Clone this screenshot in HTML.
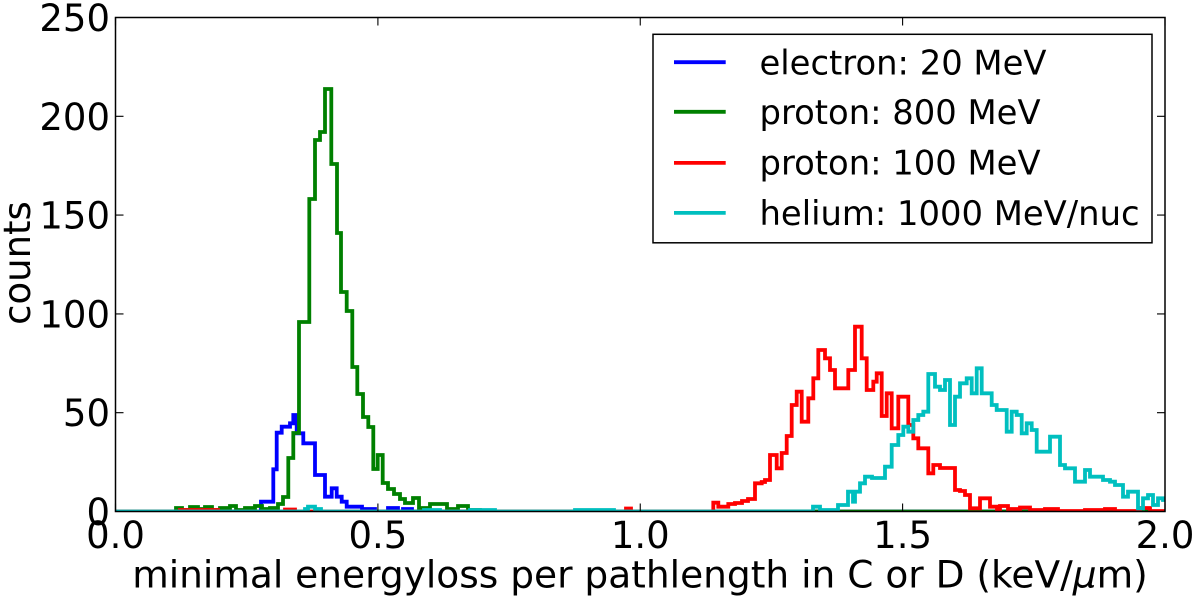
<!DOCTYPE html>
<html><head><meta charset="utf-8"><style>
html,body{margin:0;padding:0;background:#fff;}
svg{display:block;}
text{font-family:"DejaVu Sans","Liberation Sans",sans-serif;fill:#000;}
</style></head><body>
<svg width="1200" height="600" viewBox="0 0 1200 600" xmlns="http://www.w3.org/2000/svg">
<rect width="1200" height="600" fill="#fff"/>
<defs><clipPath id="c"><rect x="115.5" y="17.5" width="1049.5" height="494"/></clipPath></defs>
<g clip-path="url(#c)" fill="none" stroke-width="3.8" stroke-linejoin="miter">
<path stroke="#0000ff" d="M115.5 511.5 H261 V501.7 H273.3 V469.3 H276.7 V432.7 H281.7 V426.7 H290 V423.3 H293.3 V415 H296.7 V433.3 H303.3 V443.3 H315 V475 H325 V496.7 H331.7 V488.3 H336.7 V496.7 H341.7 V501.7 H346.7 V506.7 H362 V509 H375 V511.5 H388 V508 H398 V511.5 H403 V509 H412 V511.5 H1165"/>
<path stroke="#008000" d="M115.5 511.5 H176 V508 H182 V510 H190 V507 H198 V509 H205 V507 H212 V510 H220 V508 H230 V506 H236 V510 H245 V508 H255 V506 H262 V509 H270 V508 H278 V504 H283 V497 H288.3 V458 H293.3 V433 H299 V322 H309.3 V199 H315 V140 H320 V132 H325 V89 H331.3 V164 H337 V233 H341 V292 H346.7 V311 H352.3 V367 H357.3 V394 H363 V417 H368.3 V427 H373.3 V469 H377.7 V455 H382.7 V483 H388 V489 H394 V494 H400 V499 H405 V503 H413 V498 H419 V508 H430 V504 H447 V509 H458 V506 H468 V510 H480 V511.5 H1165"/>
<path stroke="#ff0000" d="M115.5 511.5 H180 V510 H218 V511.5 H285 V509.5 H295 V511.5 H626 V508.5 H631 V511.5 H713.3 V502.7 H718.3 V506.7 H728.3 V504 H735 V503 H742 V501 H748 V499 H755 V483.3 H761.7 V482 H765 V480 H770 V455 H776.7 V468.3 H781.7 V453 H786.7 V436 H791.7 V405 H796.7 V391.7 H801.7 V421.7 H808.3 V398.3 H813.3 V378.3 H818.3 V350 H825 V358.3 H830 V370 H835 V388.3 H848.3 V370 H855 V326.7 H861.7 V358.3 H866.7 V390 H873.3 V381.7 H876.7 V373.3 H881.7 V416 H886.7 V393.3 H891.7 V428.3 H898.3 V396.7 H908.3 V425 H913.3 V438.3 H918.3 V448.3 H928.3 V473.3 H933.3 V465 H940 V468 H955 V490 H960 V491 H965 V495 H970 V508.3 H980 V498.3 H990 V506.7 H997 V509.5 H1000 V506 H1008 V509 H1020 V507.5 H1030 V510 H1045 V509 H1058 V511 H1085 V510 H1105 V509 H1115 V511 H1140 V508 H1150 V511 H1165"/>
<path stroke="#00bfbf" d="M115.5 511.5 H305 V509 H308 V506.7 H315 V509 H321 V511.5 H424 V510 H440 V511.5 H470 V510 H495 V511.5 H575 V510 H614 V511.5 H813 V506.7 H820 V510 H838 V505 H848 V491.7 H853 V501.7 H855 V491.7 H860 V483.3 H865 V476.7 H872 V478 H885 V466.7 H891.7 V445 H898.3 V435 H903.3 V426.7 H908.3 V431.7 H913.3 V420 H918.3 V415 H923.3 V411.7 H928.3 V374 H935 V386.7 H940 V390 H945 V380 H950 V425 H955 V396.7 H960 V383.3 H966.7 V378.3 H971.7 V393.3 H976.7 V368.3 H981.7 V393.3 H991.7 V405 H996.7 V410 H1006.7 V431.7 H1011.7 V411.7 H1016.7 V415 H1021.7 V433.3 H1026.7 V423.3 H1031.7 V430 H1036.7 V451.7 H1050 V436.7 H1060 V465 H1065 V468.3 H1075 V481.7 H1085 V470 H1090 V476.7 H1103 V480 H1110 V481.7 H1115 V485 H1123 V496.7 H1128 V491.7 H1138 V508.3 H1143 V498.3 H1148 V495 H1153 V505 H1158 V498.3 H1163 V500 H1165"/>
</g>
<!-- frame -->
<rect x="115.5" y="17.5" width="1049.5" height="494" fill="none" stroke="#000" stroke-width="1.5"/>
<!-- ticks -->
<g stroke="#000" stroke-width="1.1">
<path d="M115.5 511.5 V503.5 M377.9 511.5 V503.5 M640.25 511.5 V503.5 M902.6 511.5 V503.5 M1165 511.5 V503.5"/>
<path d="M115.5 17.5 V25.5 M377.9 17.5 V25.5 M640.25 17.5 V25.5 M902.6 17.5 V25.5 M1165 17.5 V25.5"/>
<path d="M115.5 412.7 H123.5 M115.5 313.9 H123.5 M115.5 215.1 H123.5 M115.5 116.3 H123.5"/>
<path d="M1165 412.7 H1157 M1165 313.9 H1157 M1165 215.1 H1157 M1165 116.3 H1157"/>
</g>
<!-- y tick labels -->
<g font-size="37" text-anchor="end">
<text x="110" y="525">0</text>
<text x="110" y="426.2">50</text>
<text x="110" y="327.4">100</text>
<text x="110" y="228.6">150</text>
<text x="110" y="129.8">200</text>
<text x="110" y="31">250</text>
</g>
<!-- x tick labels -->
<g font-size="37" text-anchor="middle">
<text x="115.5" y="548">0.0</text>
<text x="377.9" y="548">0.5</text>
<text x="640.25" y="548">1.0</text>
<text x="902.6" y="548">1.5</text>
<text x="1165" y="548">2.0</text>
</g>
<text x="640" y="587.5" font-size="37.5" text-anchor="middle">minimal energyloss per pathlength in C or D (keV/<tspan font-style="italic">μ</tspan>m)</text>
<text transform="translate(30,263) rotate(-90)" font-size="37" text-anchor="middle">counts</text>
<!-- legend -->
<rect x="653" y="34.3" width="499" height="208.5" fill="#fff" stroke="#000" stroke-width="1.5"/>
<g stroke-width="3.8">
<line x1="674" y1="62.2" x2="725.7" y2="62.2" stroke="#0000ff"/>
<line x1="674" y1="111.8" x2="725.7" y2="111.8" stroke="#008000"/>
<line x1="674" y1="162.9" x2="725.7" y2="162.9" stroke="#ff0000"/>
<line x1="674" y1="212.9" x2="725.7" y2="212.9" stroke="#00bfbf"/>
</g>
<g font-size="33.8">
<text x="759.5" y="74.4">electron: 20 MeV</text>
<text x="759.5" y="123.8">proton: 800 MeV</text>
<text x="759.5" y="174.6">proton: 100 MeV</text>
<text x="759.5" y="224.8">helium: 1000 MeV/nuc</text>
</g>
</svg>
</body></html>
